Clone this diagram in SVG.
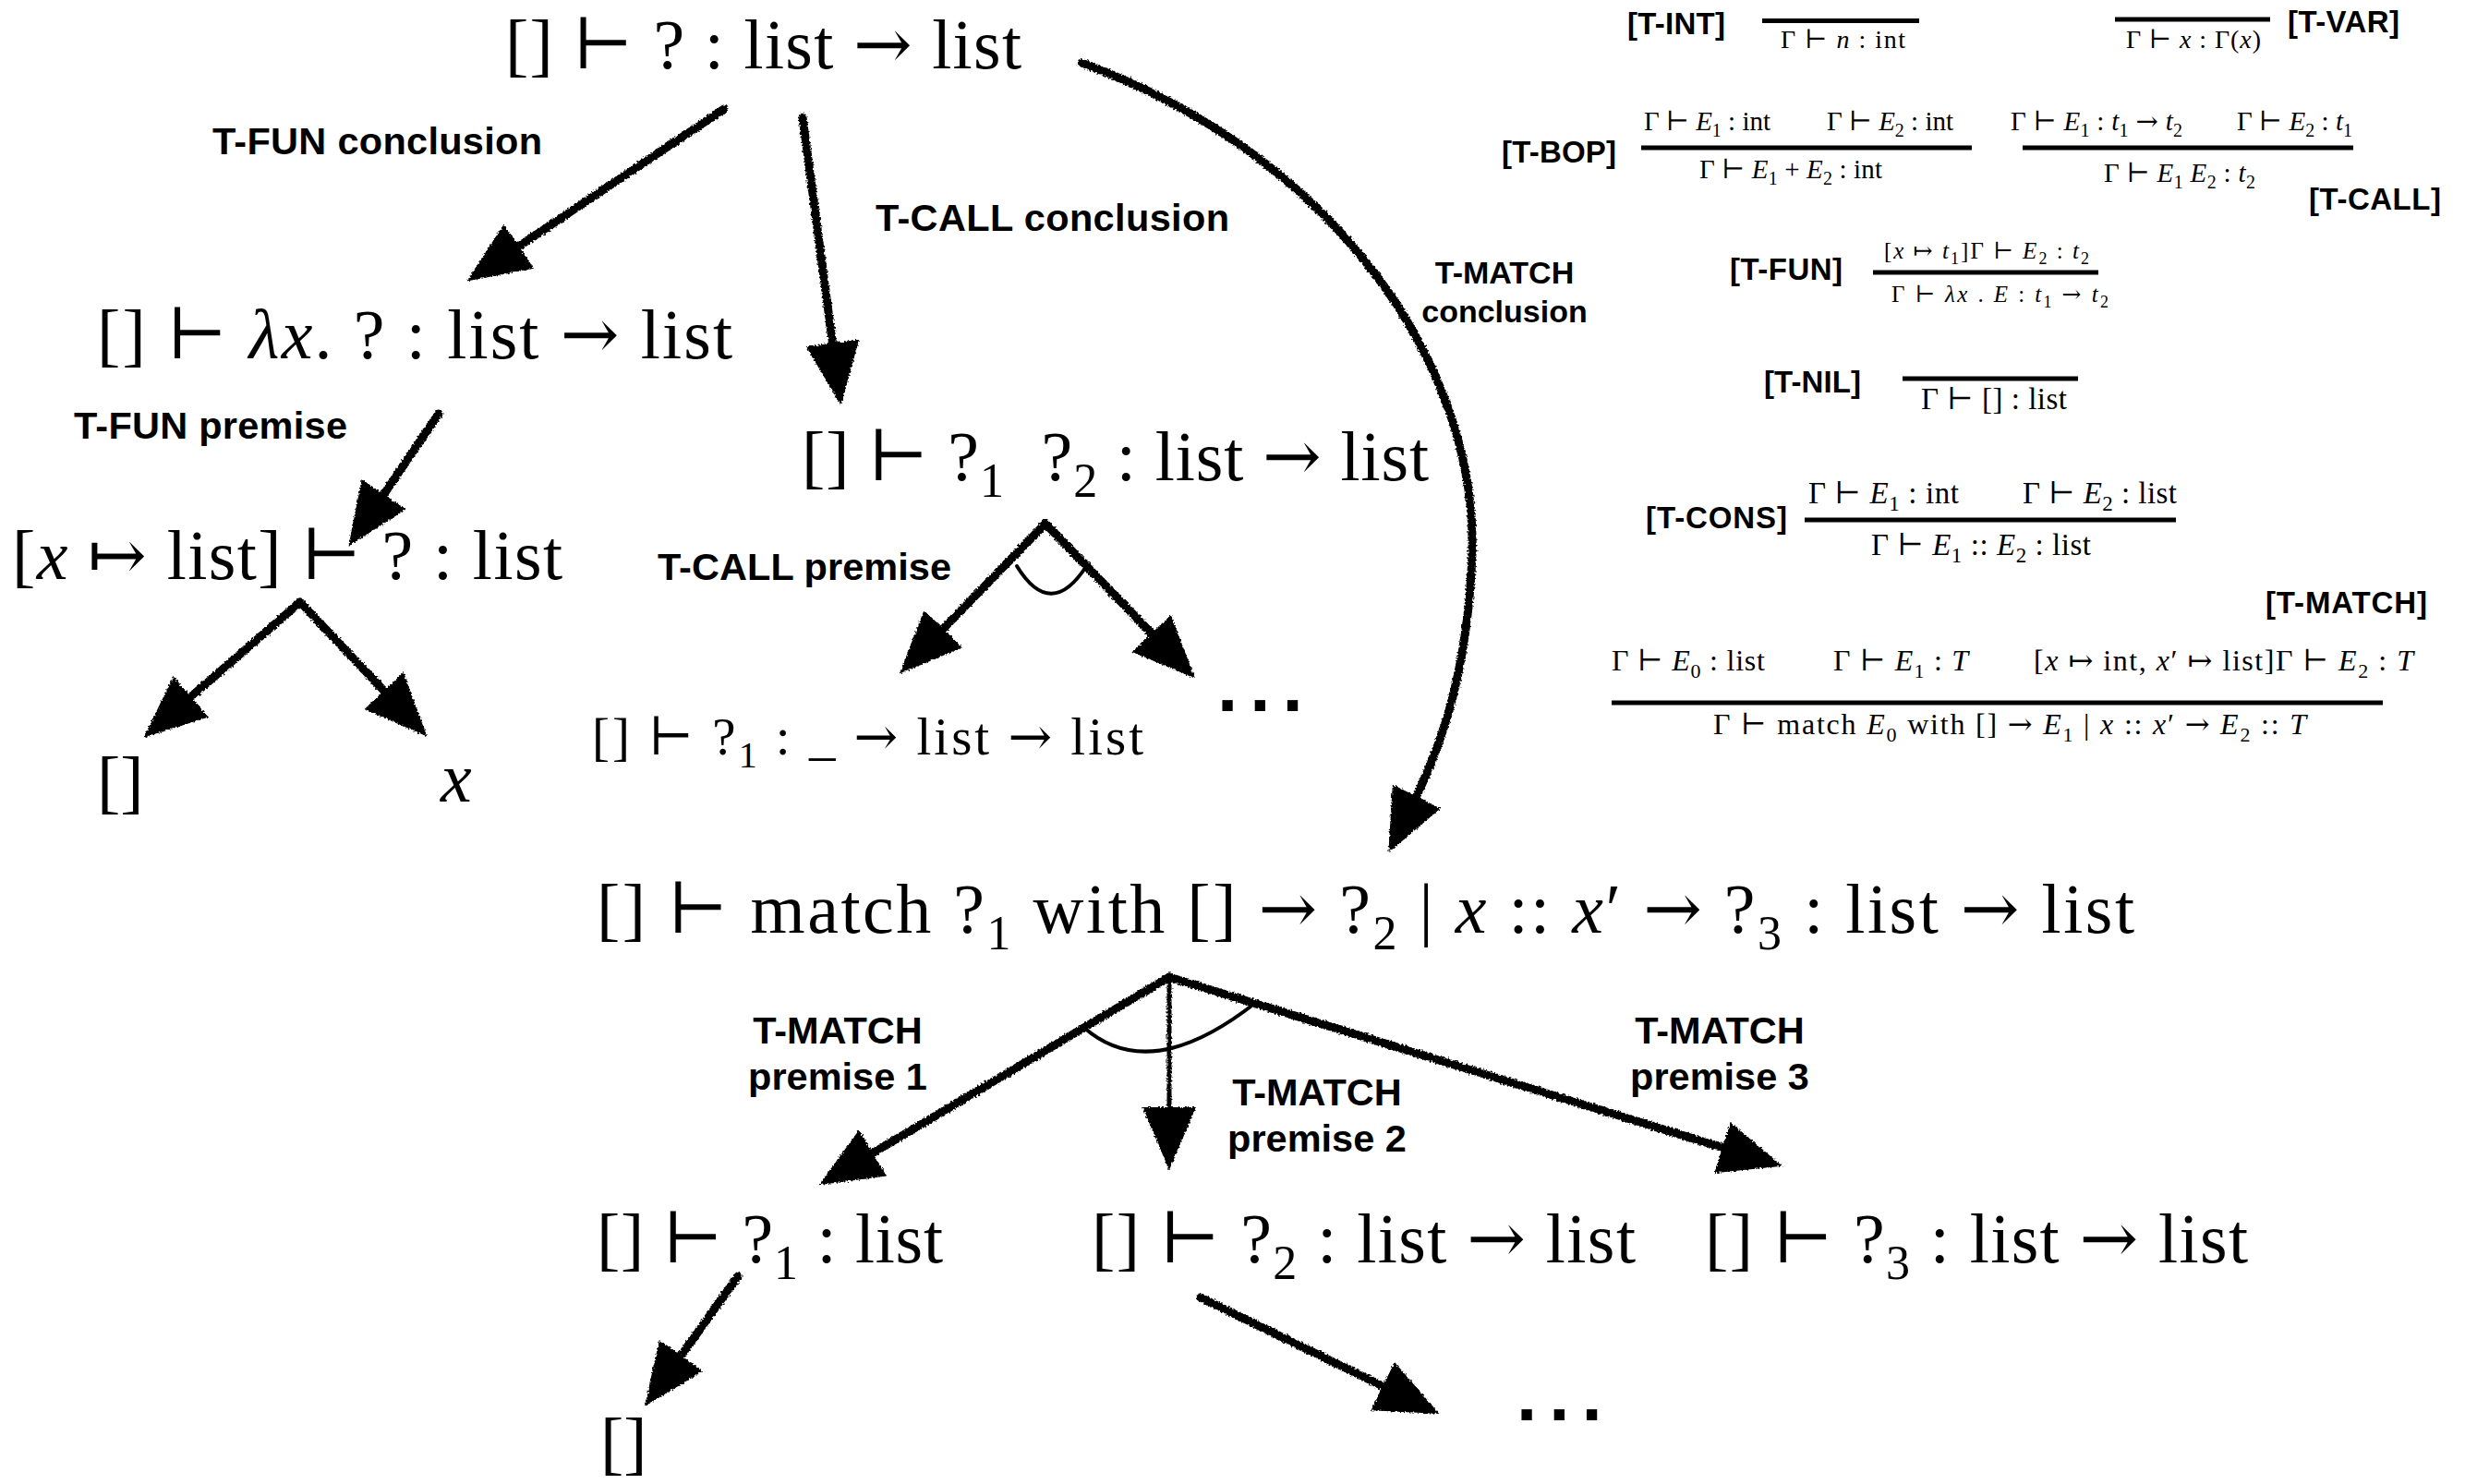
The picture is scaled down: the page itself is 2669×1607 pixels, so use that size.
<svg xmlns="http://www.w3.org/2000/svg" width="2669" height="1607" viewBox="0 0 2669 1607">
<style>
.m{font-family:"Liberation Serif","DejaVu Serif",serif;font-size:76px;fill:#000}
.i{font-style:italic}
.a{font-family:"DejaVu Serif",serif;font-weight:normal}
.sb{font-size:52px}
.lb{font-family:"Liberation Sans",Arial,sans-serif;font-weight:bold;font-size:41.5px;fill:#000}
.lbs{font-size:34px}
.rn{font-family:"Liberation Sans",Arial,sans-serif;font-weight:bold;font-size:33px;fill:#000}
.r{font-family:"Liberation Serif","DejaVu Serif",serif;font-size:29px;fill:#000}
.arrow{fill:none;stroke:#000;stroke-width:9;stroke-linecap:round;marker-end:url(#head)}
.thin{stroke-width:5}
.arc{fill:none;stroke:#000;stroke-width:4;stroke-linecap:round}
.bar{stroke:#000;stroke-width:5}
.dots{font-family:"Liberation Sans",Arial,sans-serif;font-weight:bold;font-size:80px;letter-spacing:13px;fill:#000}
</style>
<defs>
<marker id="head" markerUnits="userSpaceOnUse" markerWidth="70" markerHeight="60" viewBox="0 0 70 60" refX="42" refY="30" orient="auto"><path d="M0,1 L68,30 L0,59 Z" fill="#000"/></marker>
<filter id="rough" filterUnits="userSpaceOnUse" x="0" y="0" width="2669" height="1607"><feTurbulence type="fractalNoise" baseFrequency="0.5" numOctaves="2" seed="7" result="n"/><feDisplacementMap in="SourceGraphic" in2="n" scale="5" xChannelSelector="R" yChannelSelector="G"/></filter>
</defs>
<rect width="2669" height="1607" fill="#fff"/>

<g id="connectors">
<g filter="url(#rough)">
<path class="arrow" d="M784,118 L527,290"/>
<path class="arrow" d="M869,127 L907,413"/>
<path class="arrow" d="M1171,68 C1450,170 1600,400 1594,600 C1588,760 1545,840 1515,900"/>
<path class="arrow" d="M475,448 L392,570"/>
<path class="arrow" d="M325,652 L175,782"/>
<path class="arrow" d="M325,652 L444.5,778.5"/>
<path class="arrow" d="M1132,567 L992,711"/>
<path class="arrow" d="M1132,567 L1276,716"/>
<path class="arrow" d="M1266,1058 L909,1270"/>
<path class="arrow thin" d="M1266,1058 L1266,1241"/>
<path class="arrow" d="M1266,1058 L1905,1255"/>
<path class="arrow" d="M799,1382 L713,1502"/>
<path class="arrow" d="M1300,1405 L1535,1519.5"/>
</g>
<path class="arc" d="M1101,613 Q1138,673 1177,612"/>
<path class="arc" d="M1174,1113 Q1245,1175 1358,1087"/>
</g>

<g id="edge-labels">
<text class="lb" x="230" y="167" textLength="357">T-FUN conclusion</text>
<text class="lb" x="948" y="250" textLength="383">T-CALL conclusion</text>
<text class="lb lbs" x="1629" y="307" text-anchor="middle">T-MATCH</text>
<text class="lb lbs" x="1629" y="349" text-anchor="middle">conclusion</text>
<text class="lb" x="80" y="475" textLength="296">T-FUN premise</text>
<text class="lb" x="712" y="628" textLength="318">T-CALL premise</text>
<text class="lb" x="907" y="1130" text-anchor="middle">T-MATCH</text>
<text class="lb" x="907" y="1180" text-anchor="middle">premise 1</text>
<text class="lb" x="1426" y="1197" text-anchor="middle">T-MATCH</text>
<text class="lb" x="1426" y="1247" text-anchor="middle">premise 2</text>
<text class="lb" x="1862" y="1130" text-anchor="middle">T-MATCH</text>
<text class="lb" x="1862" y="1180" text-anchor="middle">premise 3</text>
</g>

<g id="n-root"><text class="m" x="547" y="74" textLength="559">[] ⊢ ? : list <tspan class="a">→</tspan> list</text></g>
<g id="n-lambda"><text class="m" x="105" y="388" textLength="688">[] ⊢ <tspan class="i">λx</tspan>. ? : list <tspan class="a">→</tspan> list</text></g>
<g id="n-env"><text class="m" x="13" y="627" textLength="596">[<tspan class="i">x</tspan> ↦ list] ⊢ ? : list</text></g>
<g id="n-nil-left"><text class="m" x="105" y="872">[]</text></g>
<g id="n-x"><text class="m i" x="477" y="868">x</text></g>
<g id="n-call"><text class="m" x="868" y="520" textLength="679">[] ⊢ ?<tspan class="sb" dy="18">1</tspan><tspan dy="-18">&#160; ?</tspan><tspan class="sb" dy="18">2</tspan><tspan dy="-18"> : list <tspan class="a">→</tspan> list</tspan></text></g>
<g id="n-call-p1"><text class="m" style="font-size:57px" x="641" y="817" textLength="597">[] ⊢ ?<tspan style="font-size:40px" dy="14">1</tspan><tspan dy="-14"> : _ <tspan class="a">→</tspan> list <tspan class="a">→</tspan> list</tspan></text></g>
<g id="n-call-more"><text class="dots" x="1318" y="770">...</text></g>
<g id="n-match"><text class="m" x="646" y="1010" textLength="1665">[] ⊢ match ?<tspan class="sb" dy="18">1</tspan><tspan dy="-18"> with [] <tspan class="a">→</tspan> ?</tspan><tspan class="sb" dy="18">2</tspan><tspan dy="-18"> | <tspan class="i">x</tspan> :: <tspan class="i">x</tspan>′ <tspan class="a">→</tspan> ?</tspan><tspan class="sb" dy="18">3</tspan><tspan dy="-18"> : list <tspan class="a">→</tspan> list</tspan></text></g>
<g id="n-h1"><text class="m" x="646" y="1367" textLength="375">[] ⊢ ?<tspan class="sb" dy="18">1</tspan><tspan dy="-18"> : list</tspan></text></g>
<g id="n-h2"><text class="m" x="1182" y="1367" textLength="589">[] ⊢ ?<tspan class="sb" dy="18">2</tspan><tspan dy="-18"> : list <tspan class="a">→</tspan> list</tspan></text></g>
<g id="n-h3"><text class="m" x="1846" y="1367" textLength="588">[] ⊢ ?<tspan class="sb" dy="18">3</tspan><tspan dy="-18"> : list <tspan class="a">→</tspan> list</tspan></text></g>
<g id="n-nil-bottom"><text class="m" x="650" y="1588">[]</text></g>
<g id="n-h2-more"><text class="dots" x="1642" y="1538">...</text></g>

<g id="rules">
<g id="rule-t-int">
<text class="rn" x="1762" y="37" textLength="106">[T-INT]</text>
<line class="bar" x1="1908" y1="22.5" x2="2078" y2="22.5"/>
<text class="r" style="font-size:28px" x="1928" y="52" textLength="135">Γ ⊢ <tspan class="i">n</tspan> : int</text>
</g>
<g id="rule-t-var">
<line class="bar" x1="2290" y1="21" x2="2458" y2="21"/>
<text class="r" style="font-size:28px" x="2302" y="52" textLength="146">Γ ⊢ <tspan class="i">x</tspan> : Γ(<tspan class="i">x</tspan>)</text>
<text class="rn" x="2477" y="35" textLength="121">[T-VAR]</text>
</g>
<g id="rule-t-bop">
<text class="rn" x="1626" y="176" textLength="124">[T-BOP]</text>
<text class="r" x="1780" y="141" textLength="137">Γ ⊢ <tspan class="i">E</tspan><tspan style="font-size:20px" dy="7">1</tspan><tspan dy="-7"> : int</tspan></text>
<text class="r" x="1978" y="141" textLength="137">Γ ⊢ <tspan class="i">E</tspan><tspan style="font-size:20px" dy="7">2</tspan><tspan dy="-7"> : int</tspan></text>
<line class="bar" x1="1777" y1="160" x2="2135" y2="160"/>
<text class="r" x="1840" y="193" textLength="198">Γ ⊢ <tspan class="i">E</tspan><tspan style="font-size:20px" dy="7">1</tspan><tspan dy="-7"> + </tspan><tspan class="i">E</tspan><tspan style="font-size:20px" dy="7">2</tspan><tspan dy="-7"> : int</tspan></text>
</g>
<g id="rule-t-call">
<text class="r" x="2177" y="141" textLength="186">Γ ⊢ <tspan class="i">E</tspan><tspan style="font-size:20px" dy="7">1</tspan><tspan dy="-7"> : </tspan><tspan class="i">t</tspan><tspan style="font-size:20px" dy="7">1</tspan><tspan dy="-7"> <tspan class="a">→</tspan> </tspan><tspan class="i">t</tspan><tspan style="font-size:20px" dy="7">2</tspan></text>
<text class="r" x="2422" y="141" textLength="125">Γ ⊢ <tspan class="i">E</tspan><tspan style="font-size:20px" dy="7">2</tspan><tspan dy="-7"> : </tspan><tspan class="i">t</tspan><tspan style="font-size:20px" dy="7">1</tspan></text>
<line class="bar" x1="2190" y1="160" x2="2548" y2="160"/>
<text class="r" x="2278" y="197" textLength="164">Γ ⊢ <tspan class="i">E</tspan><tspan style="font-size:20px" dy="7">1</tspan><tspan dy="-7"> </tspan><tspan class="i">E</tspan><tspan style="font-size:20px" dy="7">2</tspan><tspan dy="-7"> : </tspan><tspan class="i">t</tspan><tspan style="font-size:20px" dy="7">2</tspan></text>
<text class="rn" x="2500" y="227" textLength="143">[T-CALL]</text>
</g>
<g id="rule-t-fun">
<text class="rn" x="1873" y="303" textLength="122">[T-FUN]</text>
<text class="r" style="font-size:25px" x="2040" y="280" textLength="222">[<tspan class="i">x</tspan> ↦ <tspan class="i">t</tspan><tspan style="font-size:18px" dy="6">1</tspan><tspan dy="-6">]Γ ⊢ </tspan><tspan class="i">E</tspan><tspan style="font-size:18px" dy="6">2</tspan><tspan dy="-6"> : </tspan><tspan class="i">t</tspan><tspan style="font-size:18px" dy="6">2</tspan></text>
<line class="bar" x1="2028" y1="295" x2="2272" y2="295"/>
<text class="r" style="font-size:25px" x="2048" y="327" textLength="235">Γ ⊢ <tspan class="i">λx</tspan> . <tspan class="i">E</tspan> : <tspan class="i">t</tspan><tspan style="font-size:18px" dy="6">1</tspan><tspan dy="-6"> <tspan class="a">→</tspan> </tspan><tspan class="i">t</tspan><tspan style="font-size:18px" dy="6">2</tspan></text>
</g>
<g id="rule-t-nil">
<text class="rn" x="1910" y="425" textLength="105">[T-NIL]</text>
<line class="bar" x1="2060" y1="410" x2="2250" y2="410"/>
<text class="r" style="font-size:33px" x="2080" y="443" textLength="158">Γ ⊢ [] : list</text>
</g>
<g id="rule-t-cons">
<text class="rn" x="1782" y="572" textLength="153">[T-CONS]</text>
<text class="r" style="font-size:33px" x="1958" y="545" textLength="163">Γ ⊢ <tspan class="i">E</tspan><tspan style="font-size:23px" dy="8">1</tspan><tspan dy="-8"> : int</tspan></text>
<text class="r" style="font-size:33px" x="2190" y="545" textLength="167">Γ ⊢ <tspan class="i">E</tspan><tspan style="font-size:23px" dy="8">2</tspan><tspan dy="-8"> : list</tspan></text>
<line class="bar" x1="1954" y1="563" x2="2356" y2="563"/>
<text class="r" style="font-size:33px" x="2026" y="601" textLength="238">Γ ⊢ <tspan class="i">E</tspan><tspan style="font-size:23px" dy="8">1</tspan><tspan dy="-8"> :: </tspan><tspan class="i">E</tspan><tspan style="font-size:23px" dy="8">2</tspan><tspan dy="-8"> : list</tspan></text>
</g>
<g id="rule-t-match">
<text class="rn" x="2453" y="664" textLength="175">[T-MATCH]</text>
<text class="r" style="font-size:32px" x="1745" y="726" textLength="166">Γ ⊢ <tspan class="i">E</tspan><tspan style="font-size:22px" dy="8">0</tspan><tspan dy="-8"> : list</tspan></text>
<text class="r" style="font-size:32px" x="1985" y="726" textLength="146">Γ ⊢ <tspan class="i">E</tspan><tspan style="font-size:22px" dy="8">1</tspan><tspan dy="-8"> : </tspan><tspan class="i">T</tspan></text>
<text class="r" style="font-size:32px" x="2202" y="726" textLength="411">[<tspan class="i">x</tspan> ↦ int, <tspan class="i">x</tspan>′ ↦ list]Γ ⊢ <tspan class="i">E</tspan><tspan style="font-size:22px" dy="8">2</tspan><tspan dy="-8"> : </tspan><tspan class="i">T</tspan></text>
<line class="bar" x1="1745" y1="761" x2="2580" y2="761"/>
<text class="r" style="font-size:32px" x="1855" y="795" textLength="642">Γ ⊢ match <tspan class="i">E</tspan><tspan style="font-size:22px" dy="8">0</tspan><tspan dy="-8"> with [] <tspan class="a">→</tspan> </tspan><tspan class="i">E</tspan><tspan style="font-size:22px" dy="8">1</tspan><tspan dy="-8"> | </tspan><tspan class="i">x</tspan> :: <tspan class="i">x</tspan>′ <tspan class="a">→</tspan> <tspan class="i">E</tspan><tspan style="font-size:22px" dy="8">2</tspan><tspan dy="-8"> :: </tspan><tspan class="i">T</tspan></text>
</g>
</g>
</svg>
